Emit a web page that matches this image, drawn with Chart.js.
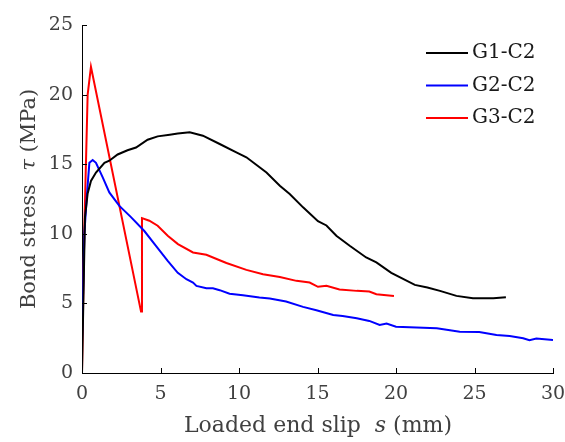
<!DOCTYPE html>
<html>
<head>
<meta charset="utf-8">
<script src="https://cdn.jsdelivr.net/npm/chart.js@4/dist/chart.umd.min.js"></script>
<style>
  html, body { margin: 0; padding: 0; background: #fff; }
  #wrap { width: 565px; height: 442px; }
</style>
</head>
<body>
<div id="wrap"><canvas id="c" width="565" height="442"></canvas></div>
<script>
// ---- data ----
const seriesLabels = ["G1-C2", "G2-C2", "G3-C2"];
const seriesColors = ["#000000", "#0000ff", "#ff0000"];

const g1Slip = [0, 0.1, 0.19, 0.36, 0.57, 0.89, 1.43, 1.74, 2.27, 2.9, 3.44, 4.18, 4.82, 5.59, 6.1, 6.86, 7.7, 8.77, 9.83, 10.47, 11.75, 12.6, 13.23, 14.08, 15.03, 15.57, 16.2, 17.05, 18.1, 18.75, 19.7, 20.2, 21.2, 22.0, 22.8, 23.85, 24.9, 26.2, 27.0];
const g1Stress = [0, 6, 11.2, 12.9, 13.8, 14.4, 15.1, 15.25, 15.7, 16.0, 16.2, 16.76, 17.0, 17.12, 17.2, 17.29, 17.05, 16.45, 15.85, 15.5, 14.4, 13.45, 12.86, 11.9, 10.9, 10.6, 9.86, 9.14, 8.3, 7.94, 7.2, 6.9, 6.33, 6.14, 5.9, 5.54, 5.37, 5.37, 5.45];

const g2Slip = [0, 0.15, 0.32, 0.47, 0.68, 0.89, 1.32, 1.74, 2.38, 3.12, 3.97, 4.71, 5.46, 6.1, 6.65, 7.07, 7.29, 7.92, 8.34, 8.77, 9.4, 10.25, 11.3, 11.96, 13.0, 14.08, 14.93, 16.0, 16.6, 17.5, 18.3, 18.96, 19.4, 20.0, 21.3, 22.6, 24.06, 25.3, 26.4, 27.24, 28.1, 28.5, 28.94, 30.0];
const g2Stress = [2.2, 10, 12.9, 15.1, 15.3, 15.1, 14.05, 12.97, 12.0, 11.2, 10.2, 9.14, 8.06, 7.2, 6.74, 6.5, 6.26, 6.09, 6.09, 5.95, 5.7, 5.59, 5.42, 5.35, 5.13, 4.75, 4.51, 4.17, 4.1, 3.94, 3.74, 3.45, 3.55, 3.33, 3.26, 3.21, 2.97, 2.95, 2.73, 2.66, 2.5, 2.35, 2.47, 2.37];

const g3Slip = [0, 0.15, 0.36, 0.57, 3.76, 3.82, 4.29, 4.82, 5.46, 6.11, 7.07, 7.92, 8.77, 9.2, 10.47, 11.53, 12.6, 13.66, 14.5, 15.03, 15.57, 16.4, 17.5, 18.3, 18.75, 19.87];
const g3Stress = [0, 10.45, 20.0, 22.0, 4.41, 11.13, 10.94, 10.58, 9.86, 9.26, 8.66, 8.49, 8.1, 7.9, 7.41, 7.1, 6.9, 6.62, 6.5, 6.19, 6.26, 6.0, 5.9, 5.85, 5.66, 5.54];

const xTicks = [0, 5, 10, 15, 20, 25, 30];
const yTicks = [0, 5, 10, 15, 20, 25];

const xTitleParts = [["Loaded end slip  ", false], ["s", true], [" (mm)", false]];
const yTitleParts = [["Bond stress  ", false], ["\u03C4", true], [" (MPa)", false]];

// ---- build ----
function pts(xs, ys) { return xs.map((x, i) => ({ x: x, y: ys[i] })); }
const allSlip = [g1Slip, g2Slip, g3Slip];
const allStress = [g1Stress, g2Stress, g3Stress];

const datasets = seriesLabels.map((lab, i) => ({
  label: lab,
  data: pts(allSlip[i], allStress[i]),
  borderColor: seriesColors[i],
  backgroundColor: seriesColors[i],
  borderWidth: 2,
  pointRadius: 0,
  showLine: true,
  tension: 0,
  fill: false
}));

const FONT = "'DejaVu Serif', serif";
const TXT = "#404040";

function drawParts(ctx, parts, size) {
  let total = 0;
  const w = parts.map(p => {
    ctx.font = (p[1] ? "italic " : "") + size + "px " + FONT;
    const m = ctx.measureText(p[0]).width;
    total += m;
    return m;
  });
  let cx = -total / 2;
  parts.forEach((p, i) => {
    ctx.font = (p[1] ? "italic " : "") + size + "px " + FONT;
    ctx.fillText(p[0], cx, 0);
    cx += w[i];
  });
}

const decor = {
  id: "decor",
  afterDraw(chart) {
    const ctx = chart.ctx;
    const xs = chart.scales.x, ys = chart.scales.y;
    const a = chart.chartArea;
    ctx.save();
    ctx.strokeStyle = "#000";
    ctx.lineWidth = 1;
    ctx.beginPath();
    xTicks.forEach(v => {
      const px = Math.round(xs.getPixelForValue(v)) + 0.5;
      ctx.moveTo(px, a.bottom);
      ctx.lineTo(px, a.bottom - 5);
    });
    yTicks.forEach(v => {
      const py = Math.round(ys.getPixelForValue(v)) + 0.5;
      ctx.moveTo(a.left, py);
      ctx.lineTo(a.left + 5, py);
    });
    ctx.stroke();

    ctx.fillStyle = TXT;
    ctx.textBaseline = "alphabetic";
    ctx.textAlign = "left";
    ctx.save();
    ctx.translate(318, 432);
    drawParts(ctx, xTitleParts, 22);
    ctx.restore();
    ctx.save();
    ctx.translate(35, 199);
    ctx.rotate(-Math.PI / 2);
    drawParts(ctx, yTitleParts, 21);
    ctx.restore();

    const x0 = 426, x1 = 468, ty0 = 53, dy = 32.5;
    chart.data.datasets.forEach((ds, i) => {
      const y = ty0 + i * dy;
      ctx.strokeStyle = ds.borderColor;
      ctx.lineWidth = 2;
      ctx.beginPath();
      ctx.moveTo(x0, y);
      ctx.lineTo(x1, y);
      ctx.stroke();
      ctx.fillStyle = "#1a1a1a";
      ctx.font = "20px " + FONT;
      ctx.textBaseline = "middle";
      ctx.textAlign = "left";
      ctx.fillText(ds.label, x1 + 4, y);
    });
    ctx.restore();
  }
};

new Chart(document.getElementById("c"), {
  type: "scatter",
  data: { datasets: datasets },
  options: {
    responsive: false,
    animation: false,
    devicePixelRatio: 1,
    layout: { padding: { top: 25, right: 12, left: 0, bottom: 0 } },
    plugins: { legend: { display: false }, tooltip: { enabled: false } },
    scales: {
      x: {
        type: "linear",
        min: 0, max: 30,
        afterBuildTicks: s => { s.ticks = xTicks.map(v => ({ value: v })); },
        afterFit: s => { s.height = 69; s.paddingLeft = 0; s.paddingRight = 0; },
        grid: { display: true, drawOnChartArea: false, drawTicks: false },
        border: { display: true, color: "#000", width: 1 },
        ticks: { color: TXT, padding: 10, font: { family: FONT, size: 19 }, maxRotation: 0 }
      },
      y: {
        type: "linear",
        min: 0, max: 25,
        afterBuildTicks: s => { s.ticks = yTicks.map(v => ({ value: v })); },
        afterFit: s => { s.width = 82; s.paddingTop = 0; s.paddingBottom = 0; },
        grid: { display: true, drawOnChartArea: false, drawTicks: false },
        border: { display: true, color: "#000", width: 1 },
        ticks: { color: TXT, padding: 9, font: { family: FONT, size: 19 } }
      }
    }
  },
  plugins: [decor]
});
</script>
</body>
</html>
